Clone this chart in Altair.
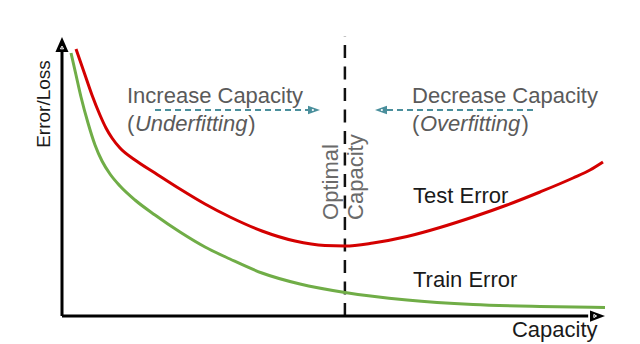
import altair as alt
import pandas as pd

# ---- data (abstract units: capacity 0-100, error 0-100) ----
test_cap = [2.58, 4.05, 5.52, 6.99, 8.10, 9.21, 10.68, 13.44, 17.13, 21.73, 26.34, 30.94, 36.83, 42.91,
            48.43, 52.12, 57.27, 63.54, 69.61, 75.69, 81.95, 88.03, 94.11, 97.24, 99.63]
test_err = [96.74, 88.41, 80.07, 72.83, 68.12, 64.49, 60.87, 56.52, 51.81, 46.01, 40.58, 35.87, 30.80, 27.17,
            25.54, 25.36, 26.45, 28.80, 32.07, 35.87, 40.22, 44.93, 50.0, 52.90, 55.80]
train_cap = [1.66, 2.58, 3.50, 4.79, 6.08, 7.37, 8.84, 10.68, 13.44, 17.13, 21.73, 26.34, 30.94, 36.83,
             43.83, 52.12, 63.54, 75.69, 88.03, 100.0]
train_err = [95.29, 87.32, 79.35, 69.93, 61.96, 56.16, 51.45, 47.10, 42.03, 36.59, 30.43, 25.0, 20.65, 15.58,
             11.59, 8.51, 5.80, 4.17, 3.44, 3.08]

optimal_cap = 52.1

# annotation texts and anchor positions (data units)
ann_gray = ["Increase Capacity", "(", ")", "Decrease Capacity", "(", ")"]
ann_gray_x = [11.97, 11.97, 34.3, 64.46, 64.46, 84.6]
ann_gray_y = [77.2, 67.0, 67.0, 77.2, 67.0, 67.0]
ann_ital = ["Underfitting", "Overfitting"]
ann_ital_x = [13.44, 65.93]
ann_ital_y = [67.0, 67.0]
ann_opt = ["Optimal", "Capacity"]
ann_opt_x = [50.83, 55.4]
ann_opt_y = [34.8, 34.8]
ann_black = ["Test Error", "Train Error", "Capacity"]
ann_black_x = [64.64, 64.64, 82.87]
ann_black_y = [40.9, 10.5, -7.6]
ylab = ["Error/Loss"]
ylab_x = [-2.21]
ylab_y = [76.8]

FONT = "Liberation Sans"
W, H = 543, 276


def X(f):
    return alt.X(f, type="quantitative", scale=alt.Scale(domain=[0, 100], nice=False, zero=False), axis=None)


def Y(f):
    return alt.Y(f, type="quantitative", scale=alt.Scale(domain=[0, 100], nice=False, zero=False), axis=None)


curves = pd.DataFrame(
    {"cap": test_cap + train_cap,
     "err": test_err + train_err,
     "series": ["Test Error"] * len(test_cap) + ["Train Error"] * len(train_cap)}
)

lines = alt.Chart(curves).mark_line(interpolate="monotone", strokeWidth=3).encode(
    x=X("cap"), y=Y("err"),
    color=alt.Color("series:N", scale=alt.Scale(domain=["Test Error", "Train Error"],
                                                 range=["#d40000", "#70ad47"]), legend=None),
)

# axes
axes_df = pd.DataFrame({"x": [0, 0], "x2": [0, 96.9], "y": [0, 0], "y2": [96.0, 0]})
axes = alt.Chart(axes_df).mark_rule(color="black", strokeWidth=3).encode(
    x=X("x"), x2="x2", y=Y("y"), y2="y2")

up_head = alt.Chart(pd.DataFrame({"x": [0], "y": [101.1]})).mark_point(
    shape="M0,0L0.87,2L-0.87,2Z", size=225, filled=True, color="black", opacity=1).encode(
    x=X("x"), y=Y("y"))
right_head = alt.Chart(pd.DataFrame({"x": [100], "y": [0]})).mark_point(
    shape="M0,0L-2,-0.75L-2,0.75Z", size=225, filled=True, color="black", opacity=1).encode(
    x=X("x"), y=Y("y"))
up_in = alt.Chart(pd.DataFrame({"x": [0], "y": [97.3]})).mark_point(
    shape="triangle-up", size=10, filled=False, color="white", strokeWidth=1, opacity=1).encode(
    x=X("x"), y=Y("y"))
right_in = alt.Chart(pd.DataFrame({"x": [98.2], "y": [0]})).mark_point(
    shape="triangle-right", size=10, filled=False, color="white", strokeWidth=1, opacity=1).encode(
    x=X("x"), y=Y("y"))

# optimal capacity dashed line
opt = alt.Chart(pd.DataFrame({"x": [optimal_cap], "y": [0], "y2": [101.4]})).mark_rule(
    color="#111111", strokeWidth=2.5, strokeDash=[13, 8.5]).encode(
    x=X("x"), y=Y("y"), y2="y2")

# teal dashed arrows
TEAL = "#4a8f9c"
arr_df = pd.DataFrame({"x": [17.13, 59.85], "x2": [45.3, 86.74], "y": [74.64, 74.64]})
arr = alt.Chart(arr_df).mark_rule(color=TEAL, strokeWidth=2, strokeDash=[6, 4]).encode(
    x=X("x"), x2="x2", y=Y("y"))
head_r = alt.Chart(pd.DataFrame({"x": [47.51], "y": [74.64]})).mark_point(
    shape="M0,0L-2,-0.7L-2,0.7Z", size=144, filled=True, color=TEAL, opacity=1).encode(
    x=X("x"), y=Y("y"))
head_l = alt.Chart(pd.DataFrame({"x": [57.64], "y": [74.64]})).mark_point(
    shape="M0,0L2,-0.7L2,0.7Z", size=144, filled=True, color=TEAL, opacity=1).encode(
    x=X("x"), y=Y("y"))
head_in = alt.Chart(pd.DataFrame({"x": [46.2, 58.9], "y": [74.64, 74.64]})).mark_point(
    shape="circle", size=5, filled=True, color="white", opacity=1).encode(
    x=X("x"), y=Y("y"))


def text_layer(texts, xv, yv, **kw):
    df = pd.DataFrame({"t": texts, "x": xv, "y": yv})
    return alt.Chart(df).mark_text(font=FONT, baseline="alphabetic", **kw).encode(
        x=X("x"), y=Y("y"), text="t:N")


t_gray = text_layer(ann_gray, ann_gray_x, ann_gray_y, align="left", fontSize=22, color="#5a5a5a")
t_ital = text_layer(ann_ital, ann_ital_x, ann_ital_y, align="left", fontSize=22, color="#5a5a5a", fontStyle="italic")
t_opt = text_layer(ann_opt, ann_opt_x, ann_opt_y, align="left", fontSize=22, color="#6a6a6a", angle=270)
t_black = text_layer(ann_black, ann_black_x, ann_black_y, align="left", fontSize=22, color="#1a1a1a")
t_ylab = text_layer(ylab, ylab_x, ylab_y, align="center", angle=270, fontSize=19, color="#1a1a1a")

chart = alt.layer(
    opt, arr, head_r, head_l, head_in, lines, axes, up_head, right_head, up_in, right_in,
    t_gray, t_ital, t_opt, t_black, t_ylab,
).properties(
    width=W, height=H,
    autosize=alt.AutoSizeParams(type="none"),
    padding={"left": 54, "top": 32, "right": 27, "bottom": 28},
    background="white",
).configure_view(strokeWidth=0)

chart.save("out.html", embed_options={"renderer": "svg", "actions": False})
